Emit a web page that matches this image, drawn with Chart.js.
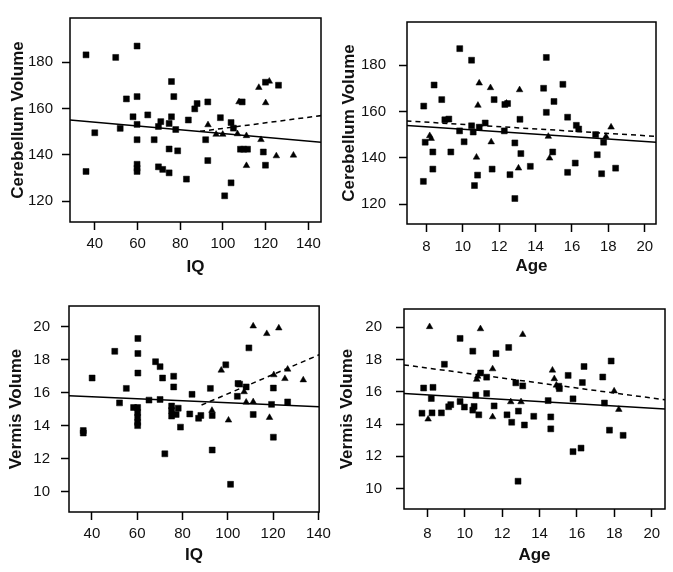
<!DOCTYPE html>
<html>
<head>
<meta charset="utf-8">
<script src="https://cdn.jsdelivr.net/npm/chart.js@4.4.0/dist/chart.umd.min.js"></script>
<style>
  body { margin: 0; background: #fff; }
  #wrap { position: relative; width: 673px; height: 572px; }
  canvas { position: absolute; }
</style>
</head>
<body>
<div id="wrap">
  <canvas id="cbIq" width="336" height="286" style="left:0;top:0"></canvas>
  <canvas id="cbAge" width="337" height="286" style="left:336px;top:0"></canvas>
  <canvas id="vmIq" width="336" height="286" style="left:0;top:286px"></canvas>
  <canvas id="vmAge" width="337" height="286" style="left:336px;top:286px"></canvas>
</div>
<script>
// tick labels
const iqTicks = [40, 60, 80, 100, 120, 140]
const ageTicks = [8, 10, 12, 14, 16, 18, 20]
const cbTicks = [120, 140, 160, 180]
const vmTicks = [10, 12, 14, 16, 18, 20]

// cerebellum volume vs IQ  ([x, y])
const cbIqSquares = [[35.9,183.1],[35.9,132.8],[40,149.5],[49.8,182],[51.9,151.4],[54.8,164.1],[57.9,156.4],[59.8,186.9],[59.8,165.1],[59.8,153.1],[59.8,146.5],[59.8,135.9],[59.8,134.2],[59.8,132.8],[64.8,157.2],[67.8,146.5],[69.8,152.2],[70.9,154.3],[69.8,134.8],[71.8,133.7],[74.8,153.5],[75.9,171.6],[75.9,156.4],[77,165.1],[77.9,150.9],[74.8,142.5],[78.8,141.7],[74.8,132.2],[82.9,129.5],[83.8,155],[86.8,159.8],[87.9,162.1],[92.9,162.8],[91.9,146.5],[92.9,137.5],[98.8,156],[103.8,153.9],[104.9,151.5],[100.8,122.3],[103.8,127.9],[108.2,142.4],[109.7,142.4],[111.5,142.4],[109,162.8],[118.9,141.2],[119.9,171.3],[119.9,135.5],[126,170]]
const cbIqTriangles = [[93,152.9],[96.8,148.8],[99.9,148.8],[106.8,149],[111,148.2],[111,135.3],[117.8,146.5],[116.8,169],[120,162.4],[121.7,171.7],[125,139.5],[133,139.8],[107.5,162.8]]
const cbIqSolid = [[28.4,155.0],[146,145.4]]
const cbIqDashed = [[89.3,150.1],[146,156.9]]

// cerebellum volume vs age
const cbAgeSquares = [[7.85,162.3],[7.93,146.7],[7.83,129.8],[8.42,171.4],[8.35,142.5],[8.35,135.1],[8.84,165.1],[9.01,156.4],[9.23,156.7],[9.34,142.5],[9.83,187.1],[9.82,151.6],[10.07,146.9],[10.48,182.1],[10.48,153.8],[10.57,151.1],[10.64,128],[10.81,132.5],[10.9,153.2],[11.23,155],[11.61,135.1],[11.72,165.1],[12.31,163],[12.46,163.4],[12.59,132.7],[12.28,151.6],[12.86,122.4],[12.86,146.4],[13.14,156.6],[13.19,141.8],[13.71,136.3],[14.44,170],[14.59,183.3],[14.59,159.6],[14.94,142.5],[15.01,164.3],[15.5,171.7],[15.76,157.5],[15.76,133.7],[16.18,137.7],[16.24,154],[16.37,152.4],[17.3,150],[17.39,141.3],[17.63,133.1],[17.74,146.7],[18.4,135.5]]
const cbAgeTriangles = [[8.18,149.5],[8.26,148.3],[10.75,140.2],[10.83,162.6],[10.9,172.2],[11.52,170.2],[11.56,146.8],[12.4,163.5],[13.06,135.5],[13.12,169.3],[14.7,149.2],[14.77,139.8],[17.87,149.2],[18.15,153.2]]
const cbAgeSolid = [[6.9,153.9],[20.7,146.7]]
const cbAgeDashed = [[6.9,155.9],[20.7,149.2]]

// vermis volume vs IQ
const vmIqSquares = [[36.2,13.7],[36.2,13.55],[40.1,16.89],[50.1,18.51],[52.2,15.38],[55.2,16.26],[60.3,19.29],[60.3,18.38],[60.3,17.19],[58.4,15.1],[60.2,15.1],[60.2,14.8],[60.2,14.5],[60.2,14.2],[60.2,14.0],[65.2,15.55],[68.1,17.88],[70.1,17.58],[70.1,15.59],[71.2,16.89],[72.2,12.29],[76.1,17],[76.1,16.35],[75.2,15.19],[75.2,14.92],[75.2,14.58],[77.2,14.68],[78.1,15.06],[79.1,13.91],[83.2,14.71],[84.2,15.9],[87.1,14.45],[88.1,14.62],[92.3,16.26],[93.1,14.62],[93.1,12.52],[99.1,17.69],[101.2,10.44],[104.2,15.78],[104.5,16.56],[105.2,16.52],[108.1,16.35],[109.3,18.72],[111.2,14.68],[119.3,15.29],[120.1,16.28],[120.1,13.3],[126.4,15.44]]
const vmIqTriangles = [[93,14.92],[97.1,17.36],[100.3,14.33],[107.2,16.05],[108.1,15.42],[111.2,15.44],[111.2,20.04],[117.2,19.58],[118.4,14.49],[122.5,19.92],[120.3,17.08],[125.2,16.85],[126.4,17.42],[133.3,16.77]]
const vmIqSolid = [[29.9,15.82],[140.3,15.15]]
const vmIqDashed = [[88.4,15.25],[140.3,18.3]]

// vermis volume vs age
const vmAgeSquares = [[7.8,16.23],[7.71,14.67],[8.25,14.69],[8.21,15.58],[8.3,16.27],[8.75,14.69],[8.91,17.7],[9.14,15.07],[9.25,15.2],[9.75,19.3],[9.75,15.39],[9.98,15.05],[10.43,18.51],[10.43,14.86],[10.5,15.09],[10.59,15.79],[10.75,14.57],[10.85,17.16],[11.17,16.9],[11.17,15.89],[11.57,15.12],[11.67,18.36],[12.26,14.57],[12.35,18.74],[12.51,14.11],[12.73,16.55],[12.87,14.8],[12.85,10.46],[13.1,16.36],[13.19,13.94],[13.69,14.48],[14.46,15.45],[14.6,14.44],[14.6,13.7],[15.03,16.34],[15.06,16.19],[15.53,17.01],[15.79,12.29],[15.79,15.56],[16.22,12.51],[16.29,16.57],[16.38,17.56],[17.38,16.91],[17.47,15.3],[17.74,13.62],[17.83,17.9],[18.47,13.3]]
const vmAgeTriangles = [[8.12,20.02],[8.04,14.3],[10.64,16.76],[10.69,16.95],[10.84,19.89],[11.49,17.41],[11.49,14.44],[12.46,15.37],[13.01,15.37],[13.1,19.54],[14.69,17.33],[14.79,16.8],[14.9,16.4],[17.99,16.04],[18.24,14.9]]
const vmAgeSolid = [[6.75,15.89],[20.71,14.93]]
const vmAgeDashed = [[6.75,17.66],[20.71,15.5]]

const FONT = '"Liberation Sans", Arial, Helvetica, sans-serif'
const xy = arr => arr.map(p => ({ x: p[0], y: p[1] }))

// black box round the plot area
const frame = {
  id: 'frame',
  afterDatasetsDraw(chart) {
    const { ctx, chartArea: a } = chart
    ctx.save()
    ctx.strokeStyle = '#000'
    ctx.lineWidth = 1.5
    ctx.strokeRect(a.left, a.top, a.right - a.left, a.bottom - a.top)
    ctx.restore()
  }
}

function panel(id, o) {
  const axis = (ticks, title, tickPad, titlePad, size, min, max) => ({
    type: 'linear', min: min, max: max,
    afterBuildTicks: s => { s.ticks = ticks.map(v => ({ value: v })) },
    afterFit: s => { if (s.isHorizontal()) s.height = size; else s.width = size },
    grid: { drawOnChartArea: false, drawTicks: true, tickLength: 8, tickWidth: 1.5, color: '#000' },
    border: { display: false },
    ticks: { color: '#111', padding: tickPad, font: { family: FONT, size: 15 } },
    title: { display: true, text: title, color: '#111', padding: titlePad,
      font: { family: FONT, size: 17, weight: 'bold' } }
  })
  new Chart(document.getElementById(id), {
    type: 'scatter',
    data: {
      datasets: [
        { data: xy(o.solid), showLine: true, pointRadius: 0, borderColor: '#000', borderWidth: 1.5 },
        { data: xy(o.dashed), showLine: true, pointRadius: 0, borderColor: '#000', borderWidth: 1.5, borderDash: [5, 4] },
        { data: xy(o.squares), pointStyle: 'rect', pointRadius: 4.2, backgroundColor: '#000', borderColor: '#000', borderWidth: 0.5 },
        { data: xy(o.triangles), pointStyle: 'triangle', pointRadius: 3.8, backgroundColor: '#000', borderColor: '#000', borderWidth: 0.5 }
      ]
    },
    options: {
      responsive: false, animation: false, devicePixelRatio: 1,
      layout: { padding: o.pad },
      plugins: { legend: { display: false }, tooltip: { enabled: false } },
      scales: {
        x: axis(o.xTicks, o.xTitle, o.xTickPad, { top: 0, bottom: o.xTitlePad }, o.xH, o.xMin, o.xMax),
        y: axis(o.yTicks, o.yTitle, o.yTickPad, { top: o.yTitlePad, bottom: 0 }, o.yW, o.yMin, o.yMax)
      }
    },
    plugins: [frame]
  })
}

panel('cbIq', {
  squares: cbIqSquares, triangles: cbIqTriangles, solid: cbIqSolid, dashed: cbIqDashed,
  xTicks: iqTicks, yTicks: cbTicks, xTitle: 'IQ', yTitle: 'Cerebellum Volume',
  xMin: 28.4, xMax: 145.9, yMin: 111, yMax: 199,
  pad: { top: 6, right: 15, left: 0, bottom: 0 }, yW: 70, xH: 64,
  yTickPad: 9, xTickPad: 5, yTitlePad: 8, xTitlePad: 8
})
panel('cbAge', {
  squares: cbAgeSquares, triangles: cbAgeTriangles, solid: cbAgeSolid, dashed: cbAgeDashed,
  xTicks: ageTicks, yTicks: cbTicks, xTitle: 'Age', yTitle: 'Cerebellum Volume',
  xMin: 6.93, xMax: 20.62, yMin: 111.4, yMax: 198.6,
  pad: { top: 7, right: 17, left: 0, bottom: 0 }, yW: 71, xH: 62,
  yTickPad: 13, xTickPad: 6, yTitlePad: 3, xTitlePad: 9
})
panel('vmIq', {
  squares: vmIqSquares, triangles: vmIqTriangles, solid: vmIqSolid, dashed: vmIqDashed,
  xTicks: iqTicks, yTicks: vmTicks, xTitle: 'IQ', yTitle: 'Vermis Volume',
  xMin: 29.9, xMax: 140.3, yMin: 8.76, yMax: 21.26,
  pad: { top: 7, right: 13, left: 0, bottom: 0 }, yW: 69, xH: 60,
  yTickPad: 11, xTickPad: 5, yTitlePad: 6, xTitlePad: 6
})
panel('vmAge', {
  squares: vmAgeSquares, triangles: vmAgeTriangles, solid: vmAgeSolid, dashed: vmAgeDashed,
  xTicks: ageTicks, yTicks: vmTicks, xTitle: 'Age', yTitle: 'Vermis Volume',
  xMin: 6.75, xMax: 20.71, yMin: 8.74, yMax: 21.12,
  pad: { top: 7, right: 8, left: 0, bottom: 0 }, yW: 68, xH: 63,
  yTickPad: 14, xTickPad: 8, yTitlePad: 1, xTitlePad: 6
})
</script>
</body>
</html>
